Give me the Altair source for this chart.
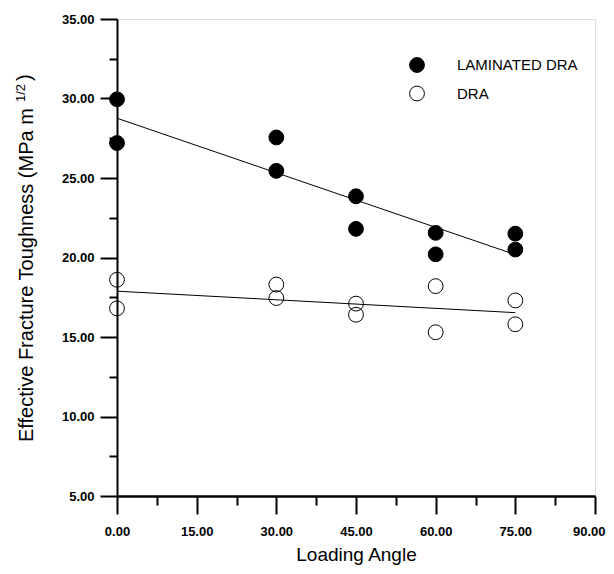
import altair as alt
import pandas as pd

# ---- data ----
angles = [0, 0, 30, 30, 45, 45, 60, 60, 75, 75]
laminated_dra = [29.95, 27.2, 27.55, 25.45, 23.85, 21.8, 21.55, 20.2, 21.5, 20.5]
dra = [18.6, 16.8, 18.3, 17.45, 17.1, 16.4, 18.2, 15.3, 17.3, 15.8]
series_names = ["LAMINATED DRA", "DRA"]

x_major_ticks = [0, 15, 30, 45, 60, 75, 90]
x_minor_ticks = [7.5, 22.5, 37.5, 52.5, 67.5, 82.5]
y_major_ticks = [5, 10, 15, 20, 25, 30, 35]
y_minor_ticks = [7.5, 12.5, 17.5, 22.5, 27.5, 32.5]

y_title_main = "Effective Fracture Toughness  (MPa m"
y_title_sup = "1/2"
y_title_close = ")"

df = pd.DataFrame({
    "angle": angles + angles,
    "value": laminated_dra + dra,
    "series": [series_names[0]] * len(angles) + [series_names[1]] * len(angles),
})
one = pd.DataFrame({"k": [0]})

FONT = "Liberation Sans"

x_scale = alt.Scale(domain=[0, 90], nice=False, zero=False)
y_scale = alt.Scale(domain=[5, 35], nice=False, zero=False)

x_axis = alt.Axis(
    orient="bottom",
    values=x_major_ticks, format=".2f",
    tickSize=18, tickWidth=2, tickColor="black",
    domainColor="black", domainWidth=2.5,
    labelFont=FONT, labelFontSize=13, labelFontWeight="bold", labelColor="black",
    labelPadding=11, labelFlush=False,
    labelAlign={"condition": {"test": "datum.value === 90", "value": "right"}, "value": "center"},
    labelOffset={"condition": {"test": "datum.value === 90", "value": 10}, "value": 0},
    title="Loading Angle", titleFont=FONT, titleFontSize=19, titleFontWeight="normal",
    titleColor="black", titlePadding=7,
    grid=False,
)
y_axis = alt.Axis(
    orient="left",
    values=y_major_ticks, format=".2f",
    tickSize=17, tickWidth=2, tickColor="black",
    domainColor="black", domainWidth=2,
    labelFont=FONT, labelFontSize=13, labelFontWeight="bold", labelColor="black",
    labelPadding=6, labelFlush=False,
    title=None,
    grid=False,
)
x_minor_axis = alt.Axis(
    orient="bottom", values=x_minor_ticks, labels=False, domain=False,
    tickSize=9, tickWidth=2, tickColor="black", title=None, grid=False,
)
y_minor_axis = alt.Axis(
    orient="left", values=y_minor_ticks, labels=False, domain=False,
    tickSize=8, tickWidth=2, tickColor="black", title=None, grid=False,
)

points = alt.Chart(df).mark_point(
    shape="circle", size=220, stroke="black", strokeWidth=1, opacity=1
).encode(
    x=alt.X("angle:Q", scale=x_scale, axis=x_axis),
    y=alt.Y("value:Q", scale=y_scale, axis=y_axis),
    fill=alt.Fill(
        "series:N",
        scale=alt.Scale(domain=series_names, range=["black", "transparent"]),
        legend=alt.Legend(
            title=None, orient="none", legendX=292, legendY=38,
            symbolType="circle", symbolSize=220, symbolStrokeColor="black",
            symbolStrokeWidth=1, labelFont=FONT, labelFontSize=15,
            labelColor="black", labelOffset=32, rowPadding=8.5, padding=0,
        ),
    ),
)

fit = alt.Chart(df).transform_regression(
    "angle", "value", groupby=["series"], extent=[0, 75]
).mark_line(color="black", strokeWidth=1).encode(
    x=alt.X("angle:Q", scale=x_scale, axis=x_minor_axis),
    y=alt.Y("value:Q", scale=y_scale, axis=y_minor_axis),
    detail="series:N",
)

t_main = alt.Chart(one).mark_text(
    angle=270, align="left", baseline="alphabetic", font=FONT, fontSize=20, color="black"
).encode(x=alt.value(-84), y=alt.value(423), text=alt.value(y_title_main))
t_sup = alt.Chart(one).mark_text(
    angle=270, align="left", baseline="alphabetic", font=FONT, fontSize=13, color="black"
).encode(x=alt.value(-92), y=alt.value(83), text=alt.value(y_title_sup))
t_close = alt.Chart(one).mark_text(
    angle=270, align="left", baseline="alphabetic", font=FONT, fontSize=20, color="black"
).encode(x=alt.value(-86), y=alt.value(62), text=alt.value(y_title_close))

chart = alt.layer(fit, points, t_main, t_sup, t_close).resolve_axis(
    x="independent", y="independent"
).properties(
    width=478, height=477,
    autosize=alt.AutoSizeParams(type="none"),
    padding={"left": 109, "top": 11, "right": 11, "bottom": 70},
).configure_view(stroke=None).configure(background="white")

chart.save("out.html", embed_options={"renderer": "svg", "actions": False})
